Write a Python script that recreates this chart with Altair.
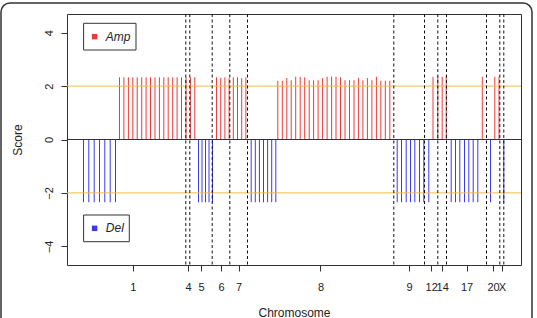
import altair as alt
import pandas as pd

# ---- data (x in genome-position units) ----
amp_pos = [52.5, 56.9, 61.4, 65.8, 70.2, 74.7, 79.1, 83.5, 88.0, 92.4, 96.8, 101.2,
           105.7, 110.1, 114.5, 119.0, 123.4, 127.8,
           149.5, 153.7, 157.9, 162.1, 166.3, 170.5, 174.7, 178.9,
           210.8, 215.3, 219.8, 224.2, 228.7, 233.2, 237.7, 242.2, 246.6, 251.1,
           255.6, 260.1, 264.6, 269.0, 273.5, 278.0, 282.5, 287.0, 291.4, 295.9,
           300.4, 304.9, 309.4, 313.8, 318.3, 322.8,
           366.0, 370.8, 375.2, 379.2,
           415.3, 427.8, 432.0]
amp_score = [2.33] * 18 + \
            [2.33, 2.3, 2.33, 2.3, 2.33, 2.33, 2.3, 2.33] + \
            [2.2, 2.2, 2.3, 2.22, 2.35, 2.35, 2.33, 2.22, 2.22, 2.22, 2.3, 2.35, 2.36,
             2.35, 2.33, 2.22, 2.22, 2.22, 2.3, 2.22, 2.3, 2.22, 2.35, 2.2, 2.2, 2.2] + \
            [2.35, 2.38, 2.35, 2.38] + \
            [2.35, 2.35, 2.35]

del_pos = [16.5, 21.8, 27.2, 32.5, 37.8, 43.2, 48.5,
           131.5, 135.0, 138.5, 142.0, 145.5,
           184.2, 188.3, 192.4, 196.5, 200.6, 204.7, 208.8,
           330.2, 334.5, 339.2, 343.5, 347.8, 352.5, 356.8, 361.8,
           384.2, 388.5, 392.8, 397.5, 401.8, 406.2, 410.8,
           423.5, 436.8]
del_score = [-2.35] * len(del_pos)

boundaries = [118.8, 122.8, 145.2, 162.8, 180.5, 326.8, 357.5, 370.8, 379.5,
              419.5, 432.8, 436.8]
chrom_centers = [65.8, 121.0, 134.0, 154.0, 171.5, 253.5, 342.0, 364.2, 375.2,
                 399.5, 426.0, 434.8]
chrom_labels = ['1', '4', '5', '6', '7', '8', '9', '12', '14', '17', '20', 'X']
thresholds = [2, -2]
y_ticks = [-4, -2, 0, 2, 4]

RED = '#f03a3a'
BLUE = '#3a3af0'
FONT = 'Liberation Sans'
TXT = '#222222'

bars = pd.DataFrame({
    'pos': amp_pos + del_pos,
    'score': amp_score + del_score,
    'type': ['Amp'] * len(amp_pos) + ['Del'] * len(del_pos),
})

x_scale = alt.Scale(domain=[0, 454], nice=False, zero=False)
y_scale = alt.Scale(domain=[-4.7, 4.7], nice=False, zero=False)
color_scale = alt.Scale(domain=['Amp', 'Del'], range=[RED, BLUE])

label_expr = ("[" + ",".join(f"'{l}'" for l in chrom_labels) + "][indexof(["
              + ",".join(str(c) for c in chrom_centers) + "], datum.value)]")

x_axis = alt.Axis(values=chrom_centers, labelExpr=label_expr, title='Chromosome',
                  tickSize=6, labelPadding=10, labelOverlap=False, labelFlush=False,
                  labelBound=False, grid=False, domain=False,
                  titleY=47, titleBaseline='middle')
y_axis = alt.Axis(values=y_ticks, title='Score', tickSize=6, labelPadding=12,
                  labelAngle=270, labelAlign='center', labelBaseline='middle',
                  grid=False, domain=False, titleX=-50, titleY=125.5,
                  titleBaseline='middle', titleAngle=270)

bar_layer = alt.Chart(bars).mark_rule(strokeWidth=1).encode(
    x=alt.X('pos:Q', scale=x_scale, axis=x_axis),
    y=alt.Y('score:Q', scale=y_scale, axis=y_axis),
    y2=alt.datum(0),
    color=alt.Color('type:N', scale=color_scale, legend=None),
)

thr_layer = alt.Chart(pd.DataFrame({'t': thresholds})).mark_rule(
    color='#efbc40', strokeWidth=1).encode(
    y=alt.Y('t:Q', scale=y_scale, axis=y_axis))

zero_layer = alt.Chart(pd.DataFrame({'z': [0]})).mark_rule(
    color='#333333', strokeWidth=1).encode(
    y=alt.Y('z:Q', scale=y_scale, axis=y_axis))

bound_layer = alt.Chart(pd.DataFrame({'b': boundaries})).mark_rule(
    color='#111111', strokeWidth=1, strokeDash=[3, 2.5]).encode(
    x=alt.X('b:Q', scale=x_scale, axis=x_axis))

one = pd.DataFrame({'k': [0]})

def legend_box(label, color, y0, y1, x1):
    yc = (y0 + y1) / 2
    box = alt.Chart(one).mark_rect(fill='white', stroke='#333333', strokeWidth=1).encode(
        x=alt.value(16.6), x2=alt.value(x1), y=alt.value(y0), y2=alt.value(y1))
    sq = alt.Chart(one).mark_square(size=30, color=color, opacity=1).encode(
        x=alt.value(27.6), y=alt.value(yc))
    tx = alt.Chart(one).mark_text(text=label, font=FONT, fontSize=12, fontStyle='italic',
                                  align='left', baseline='middle', color=TXT).encode(
        x=alt.value(38.8), y=alt.value(yc))
    return [box, sq, tx]

frame = alt.Chart(one).mark_rect(fillOpacity=0, stroke='#333333', strokeWidth=1.5,
                                 cornerRadius=9).encode(
    x=alt.value(-66), x2=alt.value(465), y=alt.value(-11), y2=alt.value(345))

layers = [bar_layer, thr_layer, zero_layer, bound_layer] + \
    legend_box('Amp', RED, 9.3, 36.0, 69.0) + \
    legend_box('Del', BLUE, 201.0, 227.7, 62.3) + [frame]

chart = alt.layer(*layers).properties(
    width=454, height=251,
    autosize=alt.AutoSizeParams(type='none'),
    padding={'left': 67, 'top': 14, 'right': 16, 'bottom': 53},
    background='white',
).configure_view(stroke='#333333', strokeWidth=1).configure_axis(
    labelFont=FONT, titleFont=FONT, labelFontSize=11, titleFontSize=12,
    labelColor=TXT, titleColor=TXT, titleFontWeight='normal',
    tickColor='#333333', tickWidth=1,
)

chart.save('out.html', embed_options={'renderer': 'svg', 'actions': False})
